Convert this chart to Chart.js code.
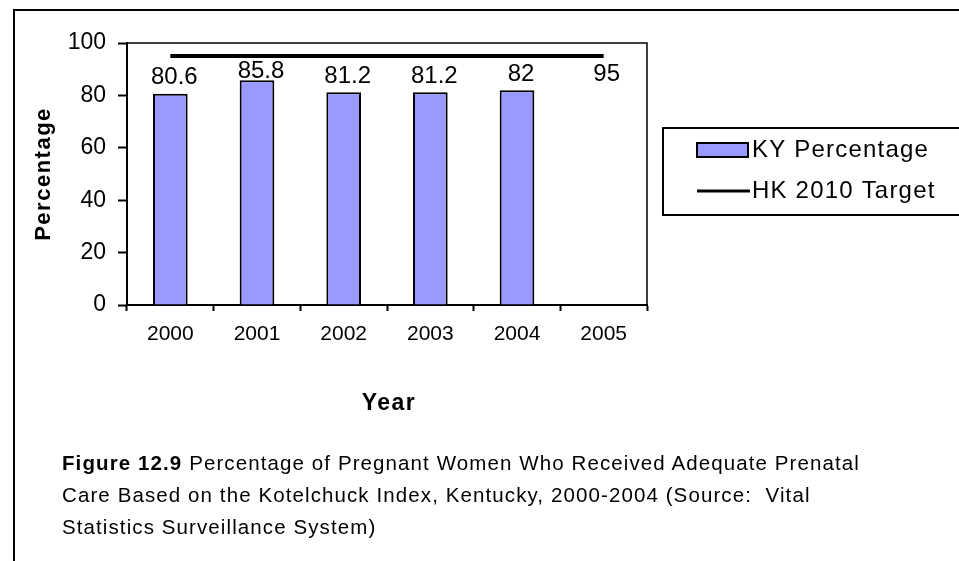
<!DOCTYPE html>
<html>
<head>
<meta charset="utf-8">
<script src="https://cdn.jsdelivr.net/npm/chart.js@4"></script>
<style>
  html, body { margin: 0; padding: 0; background: #fff; }
  #wrap { position: relative; width: 959px; height: 561px; overflow: hidden; }
  #caption {
    position: absolute; left: 62px; top: 447px;
    font-family: "Liberation Sans", Arial, sans-serif;
    font-size: 20.5px; line-height: 32px; letter-spacing: 1.1px; color: #000;
    white-space: nowrap;
  }
</style>
</head>
<body>
<div id="wrap">
  <canvas id="chart" width="959" height="561"></canvas>
  <div id="caption"><b>Figure 12.9</b> Percentage of Pregnant Women Who Received Adequate Prenatal<br>Care Based on the Kotelchuck Index, Kentucky, 2000-2004 (Source:&nbsp; Vital<br>Statistics Surveillance System)</div>
</div>
<script>
// data
const years = ["2000", "2001", "2002", "2003", "2004", "2005"];
const kyPercentage = [80.6, 85.8, 81.2, 81.2, 82, null];
const hkTarget = [95, 95, 95, 95, 95, 95];
const yTicks = [0, 20, 40, 60, 80, 100];

const FONT = "'Liberation Sans', Arial, sans-serif";
const BAR_FILL = "#9999FF";

// frame, plot box, labels, axis titles and legend
const decorations = {
  id: "decorations",
  afterDraw(chart) {
    const ctx = chart.ctx;
    const area = chart.chartArea;
    ctx.save();

    // outer frame (top and left only)
    ctx.strokeStyle = "#000";
    ctx.lineWidth = 2;
    ctx.beginPath();
    ctx.moveTo(14, 561);
    ctx.lineTo(14, 10);
    ctx.lineTo(960, 10);
    ctx.stroke();

    // plot area top / right edge
    ctx.lineWidth = 1.5;
    ctx.beginPath();
    ctx.moveTo(area.left, area.top);
    ctx.lineTo(area.right, area.top);
    ctx.lineTo(area.right, area.bottom);
    ctx.stroke();

    // value labels, kept clear of the target line
    const lineMeta = chart.getDatasetMeta(1);
    const last = lineMeta.data[lineMeta.data.length - 1];
    ctx.fillStyle = "#000";
    ctx.font = "24px " + FONT;
    ctx.textAlign = "center";
    ctx.textBaseline = "middle";
    chart.getDatasetMeta(0).data.forEach((bar, i) => {
      const v = kyPercentage[i];
      if (v == null) return;
      const y = Math.max(bar.y - 16, last.y + 15);
      ctx.fillText(String(v), bar.x + 4, y);
    });
    ctx.fillText(String(hkTarget[hkTarget.length - 1]), last.x + 3, last.y + 18);

    // axis titles
    ctx.font = "bold 22px " + FONT;
    ctx.letterSpacing = "1.5px";
    ctx.save();
    ctx.translate(44, (area.top + area.bottom) / 2);
    ctx.rotate(-Math.PI / 2);
    ctx.fillText("Percentage", 0, 0);
    ctx.restore();
    ctx.font = "bold 23px " + FONT;
    ctx.letterSpacing = "1.5px";
    ctx.fillText("Year", 389, 404);

    // legend
    ctx.lineWidth = 2;
    ctx.strokeRect(663, 128, 400, 87);
    ctx.fillStyle = BAR_FILL;
    ctx.fillRect(697, 143, 51, 14);
    ctx.strokeRect(697, 143, 51, 14);
    ctx.lineWidth = 3;
    ctx.beginPath();
    ctx.moveTo(697, 191);
    ctx.lineTo(750, 191);
    ctx.stroke();
    ctx.fillStyle = "#000";
    ctx.font = "24px " + FONT;
    ctx.letterSpacing = "1.2px";
    ctx.textAlign = "left";
    ctx.fillText(chart.data.datasets[0].label, 752, 150);
    ctx.fillText(chart.data.datasets[1].label, 752, 191);

    ctx.restore();
  }
};

new Chart(document.getElementById("chart"), {
  data: {
    labels: years,
    datasets: [
      {
        type: "bar",
        label: "KY Percentage",
        data: kyPercentage,
        backgroundColor: BAR_FILL,
        borderColor: "#000",
        borderWidth: 2,
        categoryPercentage: 1,
        barPercentage: 0.4,
        order: 2
      },
      {
        type: "line",
        label: "HK 2010 Target",
        data: hkTarget,
        borderColor: "#000",
        borderWidth: 4,
        pointRadius: 0,
        fill: false,
        order: 1
      }
    ]
  },
  options: {
    responsive: false,
    animation: false,
    layout: { padding: { left: 0, top: 43, right: 312, bottom: 216 } },
    plugins: {
      legend: { display: false },
      tooltip: { enabled: false }
    },
    scales: {
      x: {
        afterFit: s => { s.height = 40; },
        grid: {
          offset: true,
          drawOnChartArea: false,
          drawTicks: true,
          tickLength: 6,
          tickColor: "#000",
          tickWidth: 2
        },
        border: { display: true, color: "#000", width: 2 },
        ticks: { color: "#000", font: { family: FONT, size: 21 }, padding: 11 }
      },
      y: {
        min: 0,
        max: 100,
        afterFit: s => { s.width = 127; },
        afterBuildTicks: s => { s.ticks = yTicks.map(v => ({ value: v })); },
        grid: {
          drawOnChartArea: false,
          drawTicks: true,
          tickLength: 9,
          tickColor: "#000",
          tickWidth: 2
        },
        border: { display: true, color: "#000", width: 2 },
        ticks: { color: "#000", font: { family: FONT, size: 23 }, padding: 12 }
      }
    }
  },
  plugins: [decorations]
});
</script>
</body>
</html>
